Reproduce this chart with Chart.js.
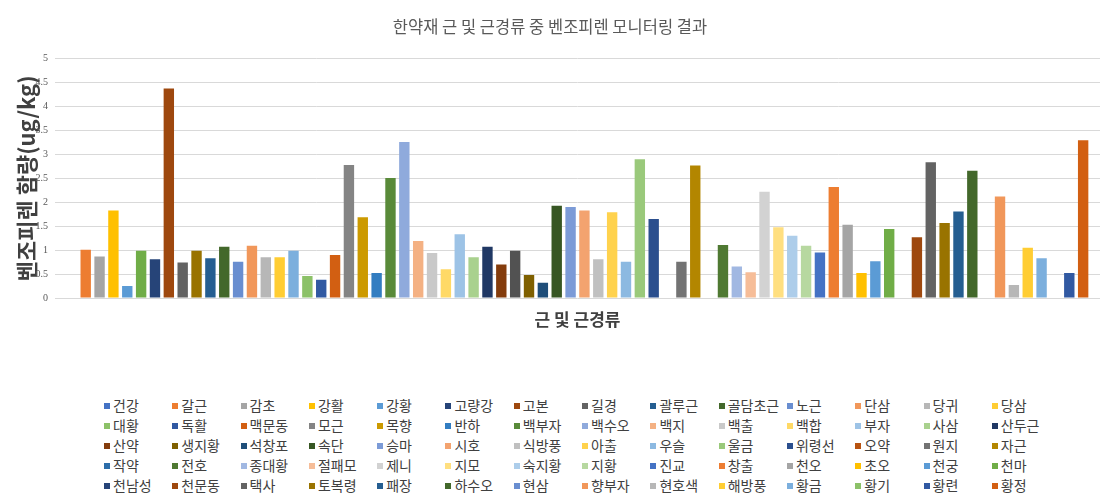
<!DOCTYPE html>
<html>
<head>
<meta charset="utf-8">
<script src="https://cdn.jsdelivr.net/npm/chart.js@4/dist/chart.umd.min.js"></script>
<style>
  body { margin: 0; background: #fff; font-family: "Noto Sans CJK KR", sans-serif; }
  #wrap { position: relative; width: 1119px; height: 504px; }
  #chart { position: absolute; left: 0; top: 0; }
  #legend {
    position: absolute; left: 104px; top: 395px;
    display: grid; grid-template-columns: repeat(14, 68.3px); grid-auto-rows: 20.1px;
  }
  .item { display: flex; align-items: center; font-size: 14px; color: #404040; white-space: nowrap; }
  .item i { display: inline-block; width: 6px; height: 6px; margin-right: 3px; margin-top: 2px; }
</style>
</head>
<body>
<div id="wrap">
  <canvas id="chart" width="1119" height="345"></canvas>
  <div id="legend"></div>
</div>
<script>
// herbs in chart order (null = series without a legend entry)
const herbs = [
  '건강','갈근','감초','강활','강황',null,'고량강','고본','길경',null,'괄루근','골담초근','노근','단삼','당귀','당삼',null,'대황','독활',
  '맥문동','모근','목향','반하','백부자','백수오','백지','백출','백합','부자','사삼','산두근','산약',null,'생지황','석창포','속단','승마',
  '시호','식방풍','아출','우슬','울금','위령선','오약','원지','자근','작약','전호','종대황','절패모','제니','지모','숙지황','지황','진교','창출',
  '천오','초오','천궁','천마','천남성','천문동','택사','토복령','패장','하수오','현삼','향부자','현호색','해방풍','황금','황기','황련','황정'
];

// 벤조피렌 함량 (ug/kg)
const values = [
  null, 1.01, 0.87, 1.83, 0.25, 0.99, 0.81, 4.38, 0.74, 0.99, 0.83, 1.07, 0.76, 1.09, 0.85, 0.85, 0.99, 0.46, 0.38,
  0.90, 2.78, 1.69, 0.52, 2.51, 3.26, 1.19, 0.94, 0.60, 1.33, 0.85, 1.07, 0.70, 0.99, 0.48, 0.32, 1.93, 1.90,
  1.83, 0.81, 1.79, 0.76, 2.90, 1.65, null, 0.76, 2.77, null, 1.11, 0.66, 0.54, 2.22, 1.48, 1.30, 1.09, 0.95, 2.32,
  1.53, 0.52, 0.77, 1.44, null, 1.27, 2.84, 1.57, 1.81, 2.66, null, 2.12, 0.27, 1.05, 0.83, null, 0.52, 3.30
];

const category = ['근 및 근경류'];
const yTicks = [0, 0.5, 1, 1.5, 2, 2.5, 3, 3.5, 4, 4.5, 5];

// office palette with its shade/tint cycle
const palette = [
  '#4472C4','#ED7D31','#A5A5A5','#FFC000','#5B9BD5','#70AD47',
  '#264478','#9E480E','#636363','#997300','#255E91','#43682B',
  '#698ED0','#F1975A','#B7B7B7','#FFCD33','#7CAFDD','#8CC168',
  '#3159A2','#D25F12','#848484','#CC9A00','#327DC1','#598A39',
  '#8FAADC','#F4B183','#C9C9C9','#FFD966','#9DC3E6','#A9D18E',
  '#203864','#843C0C','#525252','#7F6000','#1F4E79','#375623',
  '#7C9BD7','#F3A36F','#C0C0C0','#FFD24D','#8CB9E1','#9AC97B',
  '#2B4F8E','#B85310','#737373','#B38600','#2C6DA9','#4F7932',
  '#A1B8E2','#F6BD98','#D2D2D2','#FFDF80','#ADCDEA','#B7D8A0'
];

const datasets = herbs.map((name, i) => ({
  label: name || '',
  data: [values[i]],
  backgroundColor: palette[i % palette.length],
  categoryPercentage: 0.981,
  barPercentage: 0.75
}));

const ctx = document.getElementById('chart');
const chart = new Chart(ctx, {
  type: 'bar',
  data: { labels: category, datasets: datasets },
  options: {
    responsive: false,
    animation: false,
    layout: { padding: { left: 0, right: 19, top: 0, bottom: 0 } },
    plugins: {
      legend: { display: false },
      tooltip: { enabled: false },
      title: {
        display: true,
        text: '한약재 근 및 근경류 중 벤조피렌 모니터링 결과',
        color: '#595959',
        font: { family: 'Noto Sans CJK KR', size: 16.5, weight: 'normal' },
        padding: { top: 17, bottom: 22 }
      }
    },
    scales: {
      x: {
        grid: { display: false },
        border: { display: false },
        ticks: { display: false },
        title: {
          display: true,
          text: '근 및 근경류',
          color: '#404040',
          font: { family: 'Noto Sans CJK KR', size: 17, weight: 'bold' },
          padding: { top: 0, bottom: 15 }
        },
        afterFit: s => { s.height = 47; }
      },
      y: {
        min: 0,
        max: 5,
        afterBuildTicks: s => { s.ticks = yTicks.map(v => ({ value: v })); },
        grid: { color: '#d9d9d9', drawTicks: false },
        border: { display: false },
        ticks: {
          padding: 7,
          color: '#595959',
          font: { family: 'Liberation Sans Narrow', size: 10 },
          callback: v => String(v)
        },
        title: {
          display: true,
          text: '벤조피렌 함량(ug/kg)',
          color: '#404040',
          font: { family: 'Noto Sans CJK KR', size: 22, weight: 'bold' },
          padding: { top: 13, bottom: 0 }
        },
        afterFit: s => { s.width = 55; }
      }
    }
  }
});

// legend as a grid, same as in the picture
const legend = document.getElementById('legend');
herbs.forEach((name, i) => {
  if (!name) return;
  const item = document.createElement('div');
  item.className = 'item';
  const box = document.createElement('i');
  box.style.background = palette[i % palette.length];
  item.appendChild(box);
  item.appendChild(document.createTextNode(name));
  legend.appendChild(item);
});
</script>
</body>
</html>
